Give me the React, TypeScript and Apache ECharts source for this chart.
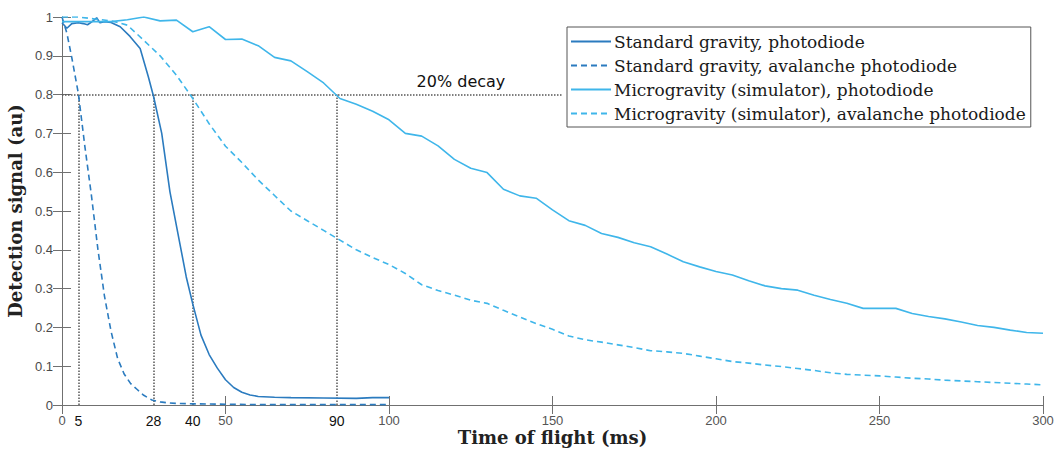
import React, { useEffect, useRef } from "react";
import * as echarts from "echarts";

// ---- Data (time in ms, signal in au) ----
const stdPhotodiode: [number, number][] = [
  [0, 0.985], [1.5, 0.971], [3, 0.983], [5, 0.985], [6.5, 0.983], [7.8, 0.98], [9, 0.987],
  [10.6, 0.998], [11.6, 0.985], [13, 0.988], [15, 0.986], [17.8, 0.975], [20.8, 0.95],
  [23.9, 0.919], [26.4, 0.846], [28, 0.795], [30.5, 0.7], [33, 0.55], [35.5, 0.44],
  [38, 0.33], [40, 0.26], [42.5, 0.18], [45, 0.13], [47.5, 0.095], [50, 0.065],
  [52.5, 0.045], [55, 0.033], [57.5, 0.026], [60, 0.022], [65, 0.02], [70, 0.019],
  [80, 0.018], [90, 0.017], [95, 0.019], [100, 0.019],
];

const stdAvalanche: [number, number][] = [
  [0, 1.0], [1.5, 0.958], [3, 0.895], [5, 0.803], [7, 0.666], [9, 0.54], [11, 0.4],
  [13, 0.28], [15, 0.19], [17, 0.12], [19, 0.08], [21, 0.055], [23, 0.04], [25, 0.025],
  [27.5, 0.013], [30, 0.008], [32, 0.006], [35, 0.004], [40, 0.003], [50, 0.002],
  [60, 0.001], [80, 0.001], [100, 0.001],
];

const microTimes: number[] = [
  0, 5, 10, 15, 20, 25, 30, 35, 40, 45, 50, 55, 60, 65, 70, 75, 80, 85, 90, 95, 100,
  105, 110, 115, 120, 125, 130, 135, 140, 145, 150, 155, 160, 165, 170, 175, 180, 185,
  190, 195, 200, 205, 210, 215, 220, 225, 230, 235, 240, 245, 250, 255, 260, 265, 270,
  275, 280, 285, 290, 295, 300,
];

const microPhotodiode: number[] = [
  0.988, 0.988, 0.988, 0.988, 0.993, 1.0, 0.99, 0.992, 0.962, 0.975, 0.942, 0.943,
  0.926, 0.896, 0.887, 0.859, 0.83, 0.79, 0.775, 0.757, 0.735, 0.7, 0.693, 0.668,
  0.633, 0.61, 0.599, 0.556, 0.539, 0.533, 0.503, 0.475, 0.463, 0.442, 0.432, 0.418,
  0.408, 0.389, 0.369, 0.356, 0.344, 0.335, 0.32, 0.307, 0.3, 0.296, 0.283, 0.272,
  0.262, 0.249, 0.249, 0.249, 0.236, 0.228, 0.222, 0.214, 0.205, 0.2, 0.193, 0.187, 0.185,
];

const microAvalanche: number[] = [
  1.0, 1.0, 0.995, 0.99, 0.979, 0.94, 0.9, 0.85, 0.79, 0.725, 0.667, 0.625, 0.58,
  0.54, 0.5, 0.475, 0.45, 0.425, 0.4, 0.38, 0.362, 0.339, 0.31, 0.295, 0.283, 0.27,
  0.262, 0.244, 0.227, 0.21, 0.195, 0.178, 0.168, 0.162, 0.155, 0.148, 0.14, 0.137,
  0.133, 0.126, 0.119, 0.112, 0.108, 0.103, 0.099, 0.094, 0.089, 0.083, 0.079, 0.077,
  0.075, 0.072, 0.069, 0.067, 0.064, 0.062, 0.06, 0.058, 0.056, 0.054, 0.052,
];

const seriesNames = [
  "Standard gravity, photodiode",
  "Standard gravity, avalanche photodiode",
  "Microgravity (simulator), photodiode",
  "Microgravity (simulator), avalanche photodiode",
];

// Axis ticks and annotated decay times
const xTickValues = [0, 50, 100, 150, 200, 250, 300];
const markerTimes = [5, 28, 40, 84];
const markerLabels = ["5", "28", "40", "90"];
const decayLevel = 0.8;
const decayLineEnd = 153;
const decayText = "20% decay";
const decayTextAt = 122;

const DARK = "#2b7bbf";
const LIGHT = "#3fb6ea";
const AXIS = "#707070";

export default function App() {
  const ref = useRef<HTMLDivElement>(null);

  useEffect(() => {
    document.body.style.margin = "0";
    if (!ref.current) return;
    const chart = echarts.init(ref.current, undefined, { renderer: "svg" });

    const labelValues = [...xTickValues, ...markerTimes].sort((a, b) => a - b);

    const markLineData: any[] = markerTimes.map((t) => [
      { coord: [t, 0] },
      { coord: [t, decayLevel] },
    ]);
    markLineData.push([{ coord: [0, decayLevel] }, { coord: [decayLineEnd, decayLevel] }]);

    const baseAxisLine = { show: true, lineStyle: { color: AXIS, width: 1 } };
    const tick = { show: true, inside: true, length: 9, lineStyle: { color: AXIS, width: 1 } };

    chart.setOption({
      animation: false,
      backgroundColor: "#ffffff",
      grid: { left: 62, right: 11, top: 17, bottom: 45, containLabel: false, outerBoundsMode: "none" },
      legend: {
        orient: "vertical",
        left: 567,
        top: 27,
        data: seriesNames,
        itemWidth: 40,
        itemHeight: 12,
        itemGap: 7,
        padding: [6, 5, 5, 3],
        backgroundColor: "#ffffff",
        borderColor: "#555555",
        borderWidth: 1,
        borderRadius: 0,
        selectedMode: false,
        itemStyle: { opacity: 0 },
        textStyle: { fontFamily: "DejaVu Serif", fontSize: 17, color: "#1a1a1a", padding: [0, 0, 0, -2] },
        z: 10,
      },
      xAxis: [
        {
          type: "value",
          min: 0,
          max: 300,
          interval: 50,
          position: "bottom",
          name: "Time of flight (ms)",
          nameLocation: "middle",
          nameGap: 23,
          nameMoveOverlap: false,
          nameTextStyle: {
            fontFamily: "DejaVu Serif",
            fontWeight: "bold",
            fontSize: 18,
            color: "#222222",
            verticalAlign: "top",
          },
          axisLine: baseAxisLine,
          axisTick: { ...tick, customValues: xTickValues },
          splitLine: { show: false },
          axisLabel: {
            customValues: labelValues,
            margin: 9,
            formatter: (v: number) => {
              const i = markerTimes.indexOf(v);
              return i >= 0 ? `{m|${markerLabels[i]}}` : `{n|${v}}`;
            },
            rich: {
              m: { fontFamily: "Liberation Sans", fontSize: 14, color: "#111111" },
              n: { fontFamily: "Liberation Sans", fontSize: 13, color: "#555555" },
            },
          },
        },
        {
          type: "value",
          min: 0,
          max: 300,
          interval: 50,
          position: "top",
          axisLine: baseAxisLine,
          axisTick: tick,
          axisLabel: { show: false },
          splitLine: { show: false },
        },
      ],
      yAxis: [
        {
          type: "value",
          min: 0,
          max: 1,
          interval: 0.1,
          position: "left",
          name: "Detection signal (au)",
          nameLocation: "middle",
          nameGap: 30,
          nameTextStyle: {
            fontFamily: "DejaVu Serif",
            fontWeight: "bold",
            fontSize: 18,
            color: "#222222",
          },
          axisLine: baseAxisLine,
          axisTick: tick,
          splitLine: { show: false },
          axisLabel: {
            margin: 9,
            fontFamily: "Liberation Sans",
            fontSize: 13,
            color: "#4a4a4a",
            formatter: (v: number) => `${Math.round(v * 10) / 10}`,
          },
        },
        {
          type: "value",
          min: 0,
          max: 1,
          interval: 0.1,
          position: "right",
          axisLine: baseAxisLine,
          axisTick: tick,
          axisLabel: { show: false },
          splitLine: { show: false },
        },
      ],
      series: [
        {
          name: seriesNames[0],
          type: "line",
          data: stdPhotodiode,
          symbol: "none",
          lineStyle: { color: DARK, width: 1.6, type: "solid" },
          itemStyle: { color: DARK },
          z: 3,
          markLine: {
            silent: true,
            symbol: "none",
            label: { show: false },
            lineStyle: { color: "#555555", type: [1.5, 1.5], width: 1.5 },
            data: markLineData,
            z: 1,
          },
          markPoint: {
            silent: true,
            symbol: "circle",
            symbolSize: 0,
            data: [{ coord: [decayTextAt, decayLevel], value: decayText }],
            label: {
              show: true,
              position: "top",
              distance: 5,
              formatter: decayText,
              fontFamily: "DejaVu Sans",
              fontSize: 16,
              color: "#111111",
            },
          },
        },
        {
          name: seriesNames[1],
          type: "line",
          data: stdAvalanche,
          symbol: "none",
          lineStyle: { color: DARK, width: 1.6, type: [6, 4] },
          itemStyle: { color: DARK },
          z: 3,
        },
        {
          name: seriesNames[2],
          type: "line",
          data: microTimes.map((t, i) => [t, microPhotodiode[i]]),
          symbol: "none",
          lineStyle: { color: LIGHT, width: 1.6, type: "solid" },
          itemStyle: { color: LIGHT },
          z: 3,
        },
        {
          name: seriesNames[3],
          type: "line",
          data: microTimes.map((t, i) => [t, microAvalanche[i]]),
          symbol: "none",
          lineStyle: { color: LIGHT, width: 1.6, type: [6, 4] },
          itemStyle: { color: LIGHT },
          z: 3,
        },
      ],
    });

    return () => chart.dispose();
  }, []);

  return <div ref={ref} style={{ width: 1054, height: 450 }} />;
}
